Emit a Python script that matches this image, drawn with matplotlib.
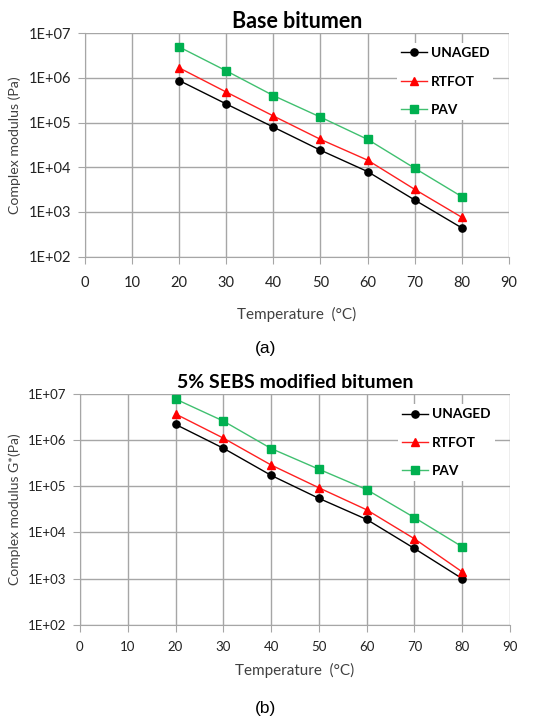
import matplotlib.pyplot as plt
from matplotlib.ticker import FixedLocator

# temperatures (deg C)
temps = [20, 30, 40, 50, 60, 70, 80]

# base bitumen, complex modulus (Pa)
base_unaged = [8.7e5, 2.6e5, 7.9e4, 2.4e4, 8.0e3, 1.85e3, 4.4e2]
base_rtfot = [1.67e6, 4.8e5, 1.4e5, 4.2e4, 1.44e4, 3.2e3, 7.6e2]
base_pav = [4.9e6, 1.43e6, 4.0e5, 1.32e5, 4.2e4, 9.5e3, 2.2e3]

# 5% SEBS modified bitumen
sebs_unaged = [2.2e6, 6.7e5, 1.73e5, 5.5e4, 1.92e4, 4.5e3, 1.0e3]
sebs_rtfot = [3.7e6, 1.11e6, 2.9e5, 9.3e4, 3.1e4, 7.3e3, 1.4e3]
sebs_pav = [7.8e6, 2.6e6, 6.6e5, 2.35e5, 8.5e4, 2.1e4, 4.9e3]

series_names = ["UNAGED", "RTFOT", "PAV"]
yticks = [1e2, 1e3, 1e4, 1e5, 1e6, 1e7]
ytick_labels = ["1E+02", "1E+03", "1E+04", "1E+05", "1E+06", "1E+07"]
xticks = [0, 10, 20, 30, 40, 50, 60, 70, 80, 90]

FONT = ["Lato", "DejaVu Sans"]
styles = [
    dict(color="black", marker="o", mfc="black", mec="black"),
    dict(color="#ff2020", marker="^", mfc="red", mec="red"),
    dict(color="#40c070", marker="s", mfc="#00b050", mec="#00b050"),
]

fig = plt.figure(figsize=(5.55, 7.19), dpi=100)


def draw_panel(ax, data, title, tsize, ylabel, ysize, leg_anchor, ticksize, xpad, lpad):
    for vals, name, st in zip(data, series_names, styles):
        ax.plot(temps, vals, lw=1.0, ms=5.2, label=name, zorder=3, **st)
    ax.set_yscale("log")
    ax.set_ylim(1e2, 1e7)
    ax.set_xlim(0, 90)
    ax.yaxis.set_major_locator(FixedLocator(yticks))
    ax.set_yticklabels(ytick_labels)
    ax.yaxis.set_minor_locator(FixedLocator([]))
    ax.set_xticks(xticks)
    ax.grid(True, color="#a6a6a6", lw=1.0)
    ax.set_axisbelow(True)
    for s in ["top", "right"]:
        ax.spines[s].set_visible(False)
    for s in ["left", "bottom"]:
        ax.spines[s].set_color("#a6a6a6")
    ax.tick_params(direction="out", length=5, color="#a6a6a6",
                   labelsize=ticksize, labelcolor="#222222", pad=5)
    ax.tick_params(axis="x", pad=xpad)
    for lab in ax.get_xticklabels() + ax.get_yticklabels():
        lab.set_family(FONT)
    ax.set_title(title, fontsize=tsize, fontweight="bold", family=FONT, pad=4)
    ax.set_xlabel("Temperature  (°C)", fontsize=11, family=FONT,
                  color="#404040", labelpad=lpad)
    ax.set_ylabel(ylabel, fontsize=ysize, family=FONT, color="#404040", labelpad=5)
    leg = ax.legend(loc="upper left", bbox_to_anchor=leg_anchor, frameon=True,
                    fancybox=False, edgecolor="none", framealpha=1.0,
                    handlelength=1.9, handletextpad=0.3, labelspacing=1.2,
                    borderpad=0.3, borderaxespad=0,
                    prop=dict(family=FONT, weight="bold", size=9.8))
    return leg


ax1 = fig.add_axes([0.153, 0.643, 0.764, 0.311])
draw_panel(ax1, [base_unaged, base_rtfot, base_pav], "Base bitumen", 15.5,
           "Complex modulus (Pa)", 10.2, (0.735, 0.955), 10.5, 9, 12)

ax2 = fig.add_axes([0.144, 0.131, 0.775, 0.321])
draw_panel(ax2, [sebs_unaged, sebs_rtfot, sebs_pav], "5% SEBS modified bitumen", 14,
           "Complex modulus G*(Pa)", 10.0, (0.74, 0.955), 9.5, 7, 7)

fig.text(0.478, 1 - 349 / 719, "(a)", ha="center", va="center",
         fontsize=12.5, family="Liberation Sans")
fig.text(0.478, 1 - 708 / 719, "(b)", ha="center", va="center",
         fontsize=12.5, family="Liberation Sans")

fig.savefig("out.png", dpi=100)
